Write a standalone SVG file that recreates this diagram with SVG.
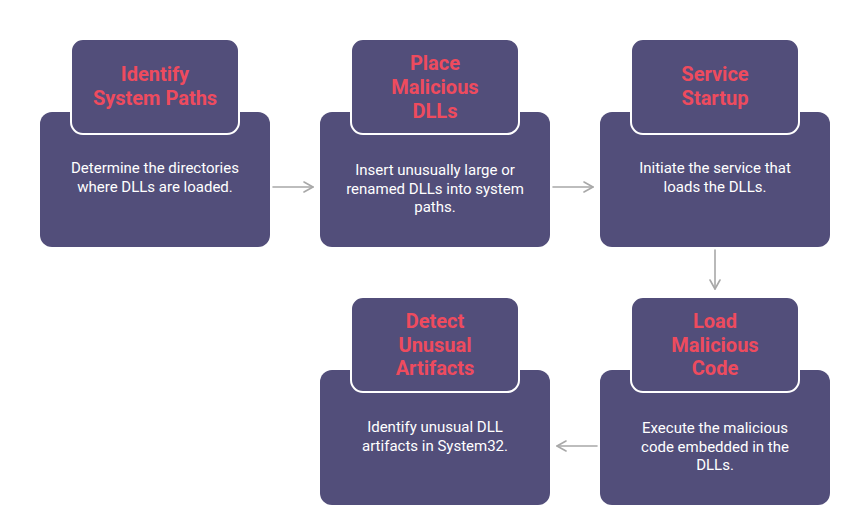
<svg xmlns="http://www.w3.org/2000/svg" width="866" height="527" viewBox="0 0 866 527">
<style>
.card{fill:#524E7A;}
.head{fill:#524E7A;stroke:#ffffff;stroke-width:2;}
.title{font-family:Roboto,"Liberation Sans",sans-serif;font-weight:700;font-size:20px;fill:#EE4B5E;text-anchor:middle;}
.body{font-family:Roboto,"Liberation Sans",sans-serif;font-weight:400;font-size:15px;fill:#ffffff;text-anchor:middle;}
.conn{stroke:#A8A8A8;stroke-width:1.6;fill:none;stroke-linecap:round;stroke-linejoin:round;}
</style>
<defs>
<marker id="arr" viewBox="0 0 12 12" refX="10" refY="6" markerWidth="12" markerHeight="12" markerUnits="userSpaceOnUse" orient="auto">
<path d="M1,1 L10,6 L1,11" fill="none" stroke="#A8A8A8" stroke-width="1.6" stroke-linecap="round" stroke-linejoin="round"/>
</marker>
</defs>
<rect width="866" height="527" fill="#ffffff"/>
<g id="connectors">
<line class="conn" x1="273" y1="187" x2="313" y2="187" marker-end="url(#arr)"/>
<line class="conn" x1="553" y1="187" x2="593" y2="187" marker-end="url(#arr)"/>
<line class="conn" x1="715" y1="250" x2="715" y2="289" marker-end="url(#arr)"/>
<line class="conn" x1="597" y1="446" x2="557" y2="446" marker-end="url(#arr)"/>
</g>
<g id="node1">
<rect class="card" x="40" y="112" width="230" height="135" rx="12"/>
<rect class="head" x="71" y="39" width="168" height="95" rx="12"/>
<text class="title" x="155" y="81">Identify</text>
<text class="title" x="155" y="105">System Paths</text>
<text class="body" x="155" y="173">Determine the directories</text>
<text class="body" x="155" y="191.5">where DLLs are loaded.</text>
</g>
<g id="node2">
<rect class="card" x="320" y="112" width="230" height="135" rx="12"/>
<rect class="head" x="351" y="39" width="168" height="95" rx="12"/>
<text class="title" x="435" y="70">Place</text>
<text class="title" x="435" y="94">Malicious</text>
<text class="title" x="435" y="118">DLLs</text>
<text class="body" x="435" y="175">Insert unusually large or</text>
<text class="body" x="435" y="193.5">renamed DLLs into system</text>
<text class="body" x="435" y="212">paths.</text>
</g>
<g id="node3">
<rect class="card" x="600" y="112" width="230" height="135" rx="12"/>
<rect class="head" x="631" y="39" width="168" height="95" rx="12"/>
<text class="title" x="715" y="81">Service</text>
<text class="title" x="715" y="105">Startup</text>
<text class="body" x="715" y="173">Initiate the service that</text>
<text class="body" x="715" y="191.5">loads the DLLs.</text>
</g>
<g id="node4">
<rect class="card" x="600" y="370" width="230" height="135" rx="12"/>
<rect class="head" x="631" y="297" width="168" height="95" rx="12"/>
<text class="title" x="715" y="328">Load</text>
<text class="title" x="715" y="352">Malicious</text>
<text class="title" x="715" y="375">Code</text>
<text class="body" x="715" y="433">Execute the malicious</text>
<text class="body" x="715" y="451.5">code embedded in the</text>
<text class="body" x="715" y="470">DLLs.</text>
</g>
<g id="node5">
<rect class="card" x="320" y="370" width="230" height="135" rx="12"/>
<rect class="head" x="351" y="297" width="168" height="95" rx="12"/>
<text class="title" x="435" y="328">Detect</text>
<text class="title" x="435" y="352">Unusual</text>
<text class="title" x="435" y="375">Artifacts</text>
<text class="body" x="435" y="432">Identify unusual DLL</text>
<text class="body" x="435" y="450.5">artifacts in System32.</text>
</g>
</svg>
